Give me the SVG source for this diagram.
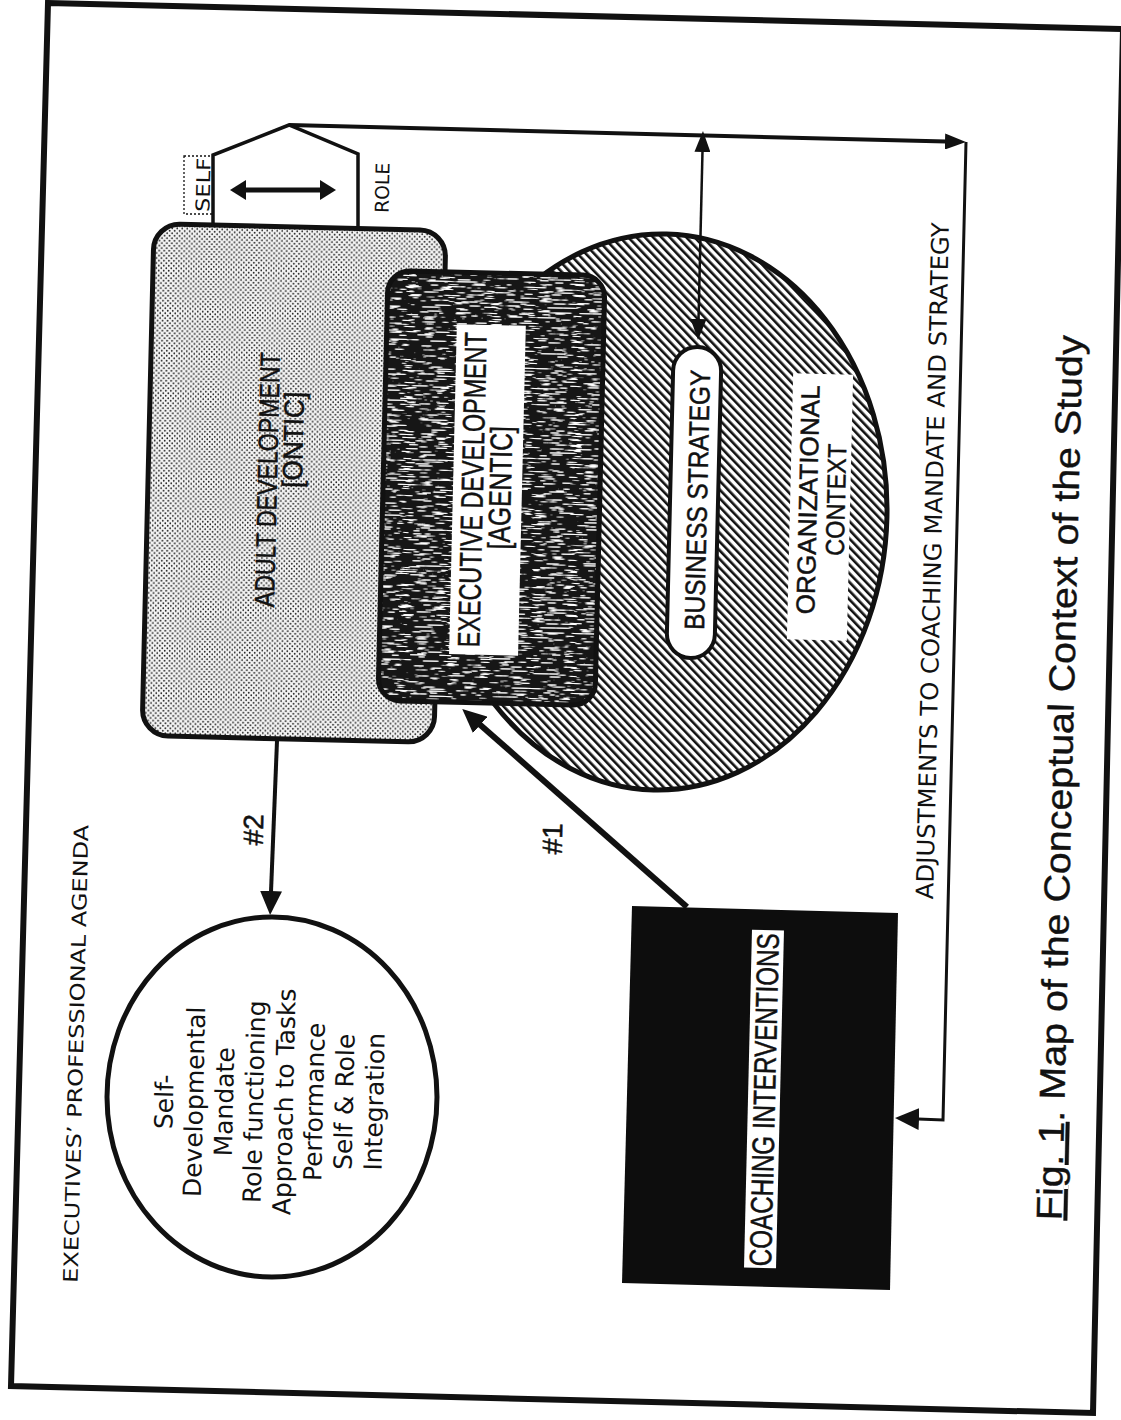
<svg xmlns="http://www.w3.org/2000/svg" width="1121" height="1420" viewBox="0 0 1121 1420">
  <style>
    .ink { stroke: #111; fill: none; }
    .lbl { font-family: "Liberation Sans", Arial, sans-serif; fill: #111; stroke: #111; stroke-width: 0.5; text-anchor: middle; }
    .gen { font-family: "DejaVu Sans", Verdana, sans-serif; fill: #111; text-anchor: middle; }
    .cap { font-family: "Liberation Sans", Arial, sans-serif; fill: #111; stroke: #111; stroke-width: 0.4; text-anchor: middle; }
  </style>
  <defs>
    <!-- light dot screen -->
    <pattern id="dots" width="5" height="5" patternUnits="userSpaceOnUse">
      <rect width="5" height="5" fill="#f6f6f6"/>
      <circle cx="1.25" cy="1.25" r="0.9" fill="#222"/>
      <circle cx="3.75" cy="3.75" r="0.9" fill="#222"/>
    </pattern>
    <!-- diagonal hatching -->
    <pattern id="hatch" width="6" height="6" patternUnits="userSpaceOnUse" patternTransform="rotate(-45)">
      <rect width="6" height="6" fill="#fff"/>
      <rect width="2.6" height="6" fill="#111"/>
    </pattern>
    <!-- streaky grain for the dark box -->
    <filter id="grain" x="0" y="0" width="1" height="1">
      <feTurbulence type="fractalNoise" baseFrequency="0.06 0.8" numOctaves="2" seed="7" result="noise"/>
      <feColorMatrix in="noise" type="matrix" values="0 0 0 0 1  0 0 0 0 1  0 0 0 0 1  14 0 0 0 -8.3" result="specks"/>
      <feComposite in="specks" in2="SourceGraphic" operator="atop"/>
    </filter>
    <marker id="headL" viewBox="0 -11 24 22" refX="1" refY="0" markerWidth="24" markerHeight="22" markerUnits="userSpaceOnUse" orient="auto">
      <path d="M0,-11 L24,0 L0,11 Z" fill="#111"/>
    </marker>
    <marker id="headM" viewBox="0 -8 21 16" refX="1" refY="0" markerWidth="21" markerHeight="16" markerUnits="userSpaceOnUse" orient="auto-start-reverse">
      <path d="M0,-8 L21,0 L0,8 Z" fill="#111"/>
    </marker>
    <marker id="headD" viewBox="0 -10 16 20" refX="1" refY="0" markerWidth="16" markerHeight="20" markerUnits="userSpaceOnUse" orient="auto-start-reverse">
      <path d="M0,-10 L16,0 L0,10 Z" fill="#111"/>
    </marker>
  </defs>

  <rect width="1121" height="1420" fill="#fff"/>

  <!-- page border -->
  <g id="frame">
    <polygon class="ink" stroke-width="6" points="48,3 1123,29 1093,1413 11,1386"/>
  </g>

  <!-- organizational context -->
  <g id="organizational-context">
    <ellipse cx="660" cy="512" rx="227" ry="278" fill="url(#hatch)" stroke="#111" stroke-width="5" transform="rotate(1.35 660 512)"/>
    <rect x="790" y="374" width="60" height="266" fill="#fff" transform="rotate(1.35 820 507)"/>
    <text class="lbl" font-size="26" textLength="229" lengthAdjust="spacingAndGlyphs" transform="translate(817,500) rotate(-88.65)">ORGANIZATIONAL</text>
    <text class="lbl" font-size="26" textLength="112" lengthAdjust="spacingAndGlyphs" transform="translate(845,500) rotate(-88.65)">CONTEXT</text>
  </g>

  <!-- adult development -->
  <g id="adult-development">
    <rect x="148" y="227" width="292" height="512" rx="26" fill="url(#dots)" stroke="#111" stroke-width="5" transform="rotate(1.35 294 483)"/>
    <text class="lbl" font-size="28" textLength="255" lengthAdjust="spacingAndGlyphs" transform="translate(277,480) rotate(-88.65)">ADULT DEVELOPMENT</text>
    <text class="lbl" font-size="28" textLength="96" lengthAdjust="spacingAndGlyphs" transform="translate(303,440) rotate(-88.65)">[ONTIC]</text>
  </g>

  <!-- executive development -->
  <g id="executive-development" transform="rotate(1.35 491 488)">
    <rect x="383" y="273" width="217" height="430" rx="22" fill="#161616" filter="url(#grain)"/>
    <rect x="383" y="273" width="217" height="430" rx="22" class="ink" stroke-width="5"/>
    <rect x="453" y="325" width="69" height="330" fill="#fff"/>
  </g>
  <g id="executive-development-label">
    <text class="lbl" font-size="31" textLength="315" lengthAdjust="spacingAndGlyphs" transform="translate(483,490) rotate(-88.65)">EXECUTIVE DEVELOPMENT</text>
    <text class="lbl" font-size="31" textLength="123" lengthAdjust="spacingAndGlyphs" transform="translate(511,488) rotate(-88.65)">[AGENTIC]</text>
  </g>

  <!-- business strategy -->
  <g id="business-strategy">
    <rect x="670" y="347" width="48" height="311" rx="24" fill="#fff" stroke="#111" stroke-width="4" transform="rotate(1.35 694 502)"/>
    <text class="lbl" font-size="28" textLength="260" lengthAdjust="spacingAndGlyphs" transform="translate(707,500) rotate(-88.65)">BUSINESS STRATEGY</text>
  </g>

  <!-- self / role -->
  <g id="self-role">
    <path class="ink" stroke-width="3.5" d="M213,227 L213,155 L289,125 L358,154 L358,228"/>
    <rect x="184" y="156" width="29" height="58" fill="none" stroke="#111" stroke-width="1.3" stroke-dasharray="2 2"/>
    <text class="gen" font-size="19" textLength="54" lengthAdjust="spacingAndGlyphs" transform="translate(210,185) rotate(-88.65)">SELF</text>
    <text class="gen" font-size="19" textLength="50" lengthAdjust="spacingAndGlyphs" transform="translate(389,188) rotate(-88.65)">ROLE</text>
  </g>

  <!-- coaching interventions -->
  <g id="coaching-interventions">
    <polygon points="632,906 898,913 890,1290 622,1283" fill="#0d0d0d"/>
    <rect x="748" y="930" width="32" height="338" fill="#fff" transform="rotate(1.35 764 1099)"/>
    <text class="lbl" font-size="31" textLength="333" lengthAdjust="spacingAndGlyphs" transform="translate(775,1100) rotate(-88.65)">COACHING INTERVENTIONS</text>
  </g>

  <!-- executives' professional agenda -->
  <g id="professional-agenda">
    <ellipse cx="272" cy="1097" rx="165" ry="180" fill="#fff" stroke="#111" stroke-width="5"/>
    <text class="gen" font-size="25" transform="translate(173,1102) rotate(-88.65)">Self-</text>
    <text class="gen" font-size="25" transform="translate(203,1102) rotate(-88.65)">Developmental</text>
    <text class="gen" font-size="25" transform="translate(233,1102) rotate(-88.65)">Mandate</text>
    <text class="gen" font-size="25" transform="translate(263,1102) rotate(-88.65)">Role functioning</text>
    <text class="gen" font-size="25" transform="translate(293,1102) rotate(-88.65)">Approach to Tasks</text>
    <text class="gen" font-size="25" transform="translate(323,1102) rotate(-88.65)">Performance</text>
    <text class="gen" font-size="25" transform="translate(353,1102) rotate(-88.65)">Self &amp; Role</text>
    <text class="gen" font-size="25" transform="translate(383,1102) rotate(-88.65)">Integration</text>
    <text class="gen" font-size="20" textLength="458" lengthAdjust="spacingAndGlyphs" transform="translate(83,1054) rotate(-88.65)">EXECUTIVES’ PROFESSIONAL AGENDA</text>
  </g>

  <!-- connectors -->
  <g id="connectors" fill="none" stroke="#111" stroke-linejoin="miter">
    <path d="M289,125 L946,141.5" stroke-width="4" marker-end="url(#headM)"/>
    <path d="M966,142 L943,1120 L918,1119" stroke-width="3" marker-end="url(#headL)"/>
    <path d="M702.5,151 L698.5,320" stroke-width="2.5" marker-start="url(#headM)" marker-end="url(#headM)"/>
    <path d="M245,190 L321,190" stroke-width="5" marker-start="url(#headD)" marker-end="url(#headD)"/>
    <path d="M277,741 L271,892" stroke-width="4" marker-end="url(#headL)"/>
    <path d="M687,907 L479.5,724.2" stroke-width="6" marker-end="url(#headL)"/>
  </g>
  <g id="connector-labels">
    <text class="lbl" font-size="28" transform="translate(263,830) rotate(-88.65)">#2</text>
    <text class="lbl" font-size="28" transform="translate(562,839) rotate(-88.65)">#1</text>
    <text class="gen" font-size="24" textLength="677" lengthAdjust="spacingAndGlyphs" transform="translate(941,561) rotate(-88.65)">ADJUSTMENTS TO COACHING MANDATE AND STRATEGY</text>
  </g>

  <!-- figure caption -->
  <g id="caption">
    <text class="cap" font-size="36" textLength="885" lengthAdjust="spacingAndGlyphs" transform="translate(1072,778) rotate(-88.65)"><tspan text-decoration="underline">Fig. 1</tspan>. Map of the Conceptual Context of the Study</text>
  </g>
</svg>
